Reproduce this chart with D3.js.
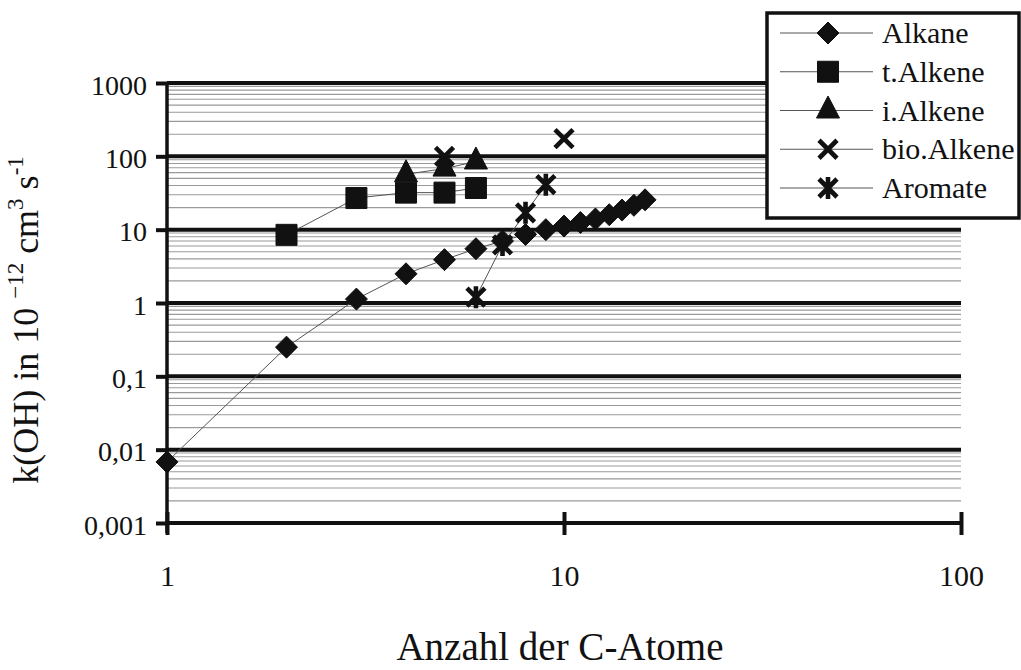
<!DOCTYPE html>
<html>
<head>
<meta charset="utf-8">
<script src="https://cdn.jsdelivr.net/npm/d3@7"></script>
<style>
  body { margin: 0; background: #fff; }
  svg { display: block; }
  text { font-family: "Liberation Serif", "Times New Roman", serif; fill: #111; }
</style>
</head>
<body>
<svg id="chart" width="1021" height="670"></svg>
<script>
// Number of carbon atoms and OH rate constants (10^-12 cm^3 s^-1) per substance class
const alkaneC   = [1, 2, 3, 4, 5, 6, 7, 8, 9, 10, 11, 12, 13, 14, 15, 16];
const alkaneK   = [0.0068, 0.25, 1.13, 2.5, 3.9, 5.5, 7.0, 8.6, 10, 11.2, 12.5, 14, 16, 18.5, 21.5, 25.5];
const tAlkeneC  = [2, 3, 4, 5, 6];
const tAlkeneK  = [8.5, 27, 32, 32, 37];
const iAlkeneC  = [4, 5, 6];
const iAlkeneK  = [57, 68, 85];
const bioAlkeneC = [5, 10];
const bioAlkeneK = [100, 175];
const aromateC  = [6, 7, 8, 9];
const aromateK  = [1.2, 6.2, 17, 41];

const seriesNames = ["Alkane", "t.Alkene", "i.Alkene", "bio.Alkene", "Aromate"];

const xTicks = [1, 10, 100];
const xTickLabels = ["1", "10", "100"];
const yTicks = [0.001, 0.01, 0.1, 1, 10, 100, 1000];
const yTickLabels = ["0,001", "0,01", "0,1", "1", "10", "100", "1000"];

const svg = d3.select("#chart");

const x = d3.scaleLog().domain([1, 100]).range([167, 961]);
const y = d3.scaleLog().domain([0.001, 1000]).range([523, 83]);

// Minor horizontal gridlines (2..9 within each decade)
const minor = y.ticks().filter(v => !yTicks.some(t => Math.abs(Math.log10(v) - Math.log10(t)) < 1e-9));
svg.append("g").selectAll("line").data(minor).join("line")
  .attr("x1", x(1)).attr("x2", x(100))
  .attr("y1", d => y(d)).attr("y2", d => y(d))
  .attr("stroke", "#9a9a9a").attr("stroke-width", 1.1);

// Major gridlines at the decades
svg.append("g").selectAll("line").data(yTicks.slice(1)).join("line")
  .attr("x1", x(1)).attr("x2", x(100))
  .attr("y1", d => y(d)).attr("y2", d => y(d))
  .attr("stroke", "#111").attr("stroke-width", 4);

// Y axis
const yAxis = svg.append("g").attr("transform", `translate(${x(1)},0)`)
  .call(d3.axisLeft(y).tickValues(yTicks).tickFormat((d, i) => yTickLabels[i]).tickSize(11).tickPadding(9));
yAxis.select(".domain").attr("stroke", "#111").attr("stroke-width", 3.5).attr("d", `M0,${y(1000)}V${y(0.001) + 10}`);
yAxis.selectAll(".tick line").attr("stroke", "#111").attr("stroke-width", 4);
yAxis.selectAll(".tick text").attr("font-size", 28).attr("dy", 11)
  .style("font-family", '"Liberation Serif", serif').attr("fill", "#111");

// X axis
const xAxis = svg.append("g").attr("transform", `translate(0,${y(0.001)})`)
  .call(d3.axisBottom(x).tickValues(xTicks).tickFormat((d, i) => xTickLabels[i]).tickSize(12).tickPadding(0));
xAxis.select(".domain").attr("stroke", "#111").attr("stroke-width", 4).attr("d", `M${x(1)},0H${x(100)}`);
xAxis.selectAll(".tick line").attr("stroke", "#111").attr("stroke-width", 4).attr("y1", -11);
xAxis.selectAll(".tick text").attr("font-size", 30).attr("y", 63).attr("dy", 0)
  .style("font-family", '"Liberation Serif", serif').attr("fill", "#111");

// Marker shapes
const markers = {
  diamond:  { d: "M0,-11L11,0L0,11L-11,0Z", fill: true },
  square:   { d: "M-10.5,-10.5h21v21h-21Z", fill: true },
  triangle: { d: "M0,-14.5L11.5,7.5L-11.5,7.5Z", fill: true },
  cross:    { d: "M-9,-9L9,9M9,-9L-9,9", fill: false },
  star:     { d: "M-9,-9L9,9M9,-9L-9,9M0,-11V11", fill: false }
};

const series = [
  { name: seriesNames[0], c: alkaneC,    k: alkaneK,    m: "diamond",  line: true },
  { name: seriesNames[1], c: tAlkeneC,   k: tAlkeneK,   m: "square",   line: true },
  { name: seriesNames[2], c: iAlkeneC,   k: iAlkeneK,   m: "triangle", line: true },
  { name: seriesNames[3], c: bioAlkeneC, k: bioAlkeneK, m: "cross",    line: false },
  { name: seriesNames[4], c: aromateC,   k: aromateK,   m: "star",     line: true }
];

function drawMarker(sel, type) {
  const m = markers[type];
  sel.append("path").attr("d", m.d)
    .attr("fill", m.fill ? "#111" : "none")
    .attr("stroke", "#111")
    .attr("stroke-width", m.fill ? 1 : 4.6)
    .attr("stroke-linecap", "butt");
}

const line = d3.line().x(d => x(d[0])).y(d => y(d[1]));

// Connecting lines
series.filter(s => s.line).forEach(s => {
  svg.append("path").datum(s.c.map((c, i) => [c, s.k[i]]))
    .attr("d", line).attr("fill", "none")
    .attr("stroke", "#555").attr("stroke-width", 1);
});

// Markers
series.forEach(s => {
  const g = svg.append("g");
  s.c.forEach((c, i) => {
    const mg = g.append("g").attr("transform", `translate(${x(c)},${y(s.k[i])})`);
    drawMarker(mg, s.m);
  });
});

// Legend
const legend = svg.append("g");
legend.append("rect").attr("x", 767).attr("y", 13).attr("width", 252).attr("height", 205)
  .attr("fill", "#fff").attr("stroke", "#111").attr("stroke-width", 3.5);
const rowY = d3.scalePoint().domain(seriesNames).range([33, 188]);
series.forEach(s => {
  const ry = rowY(s.name);
  legend.append("line").attr("x1", 780).attr("x2", 873).attr("y1", ry).attr("y2", ry)
    .attr("stroke", "#555").attr("stroke-width", 1);
  drawMarker(legend.append("g").attr("transform", `translate(828,${ry})`), s.m);
  legend.append("text").attr("x", 882).attr("y", ry + 10).attr("font-size", 30).text(s.name);
});

// Axis titles
svg.append("text").attr("x", 560).attr("y", 660).attr("text-anchor", "middle")
  .attr("font-size", 39).text("Anzahl der C-Atome");

const yTitle = svg.append("text").attr("transform", "translate(38,320) rotate(-90)")
  .attr("text-anchor", "middle").attr("font-size", 36);
yTitle.append("tspan").text("k(OH) in 10 ");
yTitle.append("tspan").attr("font-size", 23).attr("dy", -15).text("\u221212");
yTitle.append("tspan").attr("dy", 15).text(" cm");
yTitle.append("tspan").attr("font-size", 23).attr("dy", -15).text("3");
yTitle.append("tspan").attr("dy", 15).text(" s");
yTitle.append("tspan").attr("font-size", 23).attr("dy", -15).text("-1");
</script>
</body>
</html>
